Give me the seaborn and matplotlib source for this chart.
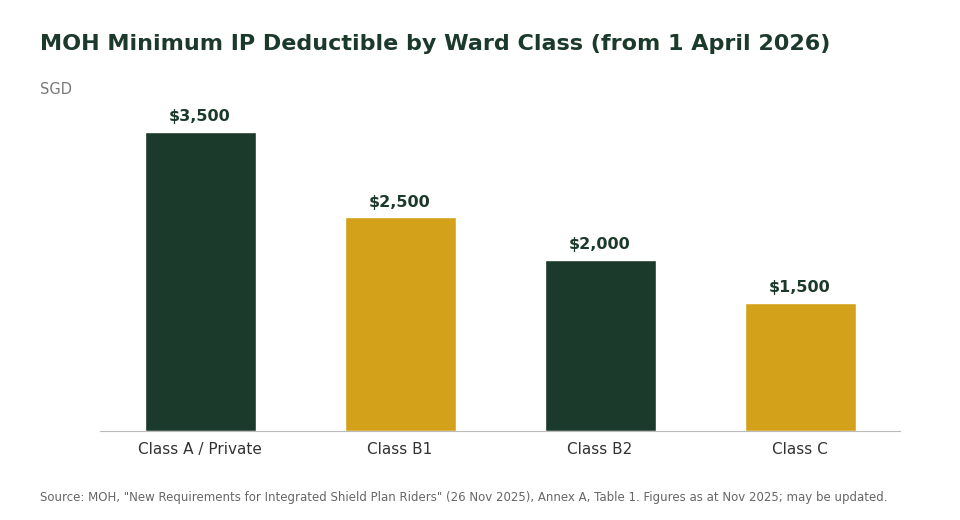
import matplotlib
matplotlib.use("Agg")
import matplotlib.pyplot as plt
import seaborn as sns
import pandas as pd

categories = ["Class A / Private", "Class B1", "Class B2", "Class C"]
values = [3500, 2500, 2000, 1500]
labels = ["$3,500", "$2,500", "$2,000", "$1,500"]
colors = ["#1b3a2b", "#d4a11a", "#1b3a2b", "#d4a11a"]

sns.set_style("white")
plt.rcParams['font.family'] = ['DejaVu Sans']

df = pd.DataFrame({"cat": categories, "val": values})
fig = plt.figure(figsize=(9.6, 5.2), dpi=100)
ax = fig.add_axes([100/960, 89/520, 800/960, 331/520])
sns.barplot(data=df, x="cat", y="val", hue="cat", palette=colors, width=0.555,
            legend=False, ax=ax, saturation=1)
ax.set_xlim(-0.5, 3.5)
ax.set_ylim(0, 3875)
for i, (v, l) in enumerate(zip(values, labels)):
    ax.text(i, v + 90, l, ha="center", va="bottom", fontsize=11.5, fontweight="bold", color="#1b3a2b")
ax.set_xlabel(""); ax.set_ylabel("")
ax.set_yticks([])
for s in ["top", "right", "left"]:
    ax.spines[s].set_visible(False)
ax.spines["bottom"].set_color("#bbbbbb")
ax.tick_params(axis="x", length=0, labelsize=11, labelcolor="#333333", pad=8)
fig.text(40/960, 1-44/520, "MOH Minimum IP Deductible by Ward Class (from 1 April 2026)",
         fontsize=16, fontweight="bold", color="#1b3a2b", va="center")
fig.text(40/960, 1-89/520, "SGD", fontsize=10.5, color="#777777", va="center")
fig.text(40/960, 1-498/520, 'Source: MOH, "New Requirements for Integrated Shield Plan Riders" (26 Nov 2025), Annex A, Table 1. Figures as at Nov 2025; may be updated.',
         fontsize=8.5, color="#666666", va="center")
fig.savefig("out.png", dpi=100)
